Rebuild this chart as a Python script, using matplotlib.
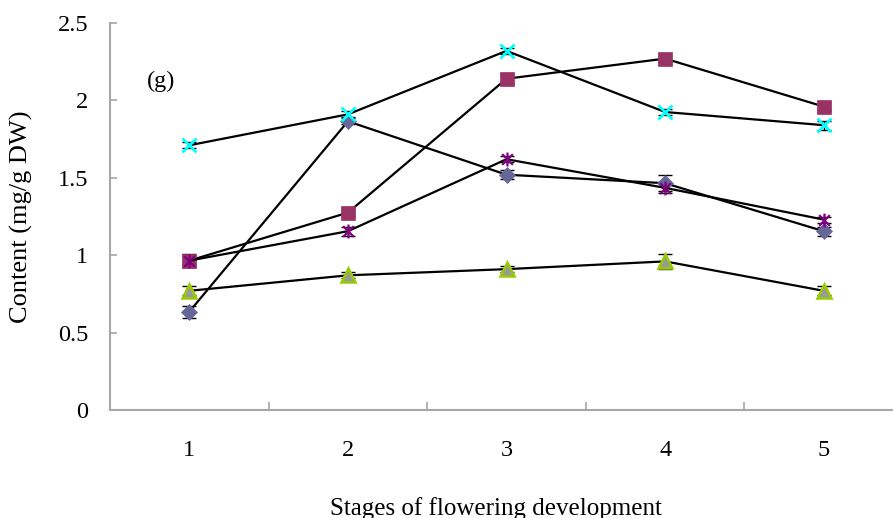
import matplotlib
matplotlib.use("Agg")
import matplotlib.pyplot as plt
from matplotlib.path import Path

# Stages along the x axis
stages = [1, 2, 3, 4, 5]
stage_labels = ["1", "2", "3", "4", "5"]

# Mean content (mg/g DW) for each series, with standard errors
diamond_vals = [0.635, 1.865, 1.52, 1.465, 1.155]
diamond_err = [0.04, 0.02, 0.03, 0.05, 0.03]

square_vals = [0.965, 1.275, 2.14, 2.27, 1.96]
square_err = [0.03, 0.02, 0.03, 0.02, 0.02]

triangle_vals = [0.77, 0.87, 0.91, 0.96, 0.77]
triangle_err = [0.03, 0.02, 0.02, 0.05, 0.03]

cross_vals = [1.71, 1.91, 2.32, 1.925, 1.84]
cross_err = [0.02, 0.02, 0.02, 0.02, 0.03]

star_vals = [0.965, 1.155, 1.62, 1.435, 1.23]
star_err = [0.04, 0.03, 0.02, 0.03, 0.02]

y_ticks = [0, 0.5, 1, 1.5, 2, 2.5]
y_tick_labels = ["0", "0.5", "1", "1.5", "2", "2.5"]

plt.rcParams["font.family"] = ["Liberation Serif", "DejaVu Serif"]

W, H = 893, 518
fig = plt.figure(figsize=(W / 100, H / 100), dpi=100)
# axes spans x = 0.5 .. 5.5; right edge runs slightly past the canvas
ax = fig.add_axes([110 / W, (H - 410) / H, 793 / W, 387 / H])

# asterisk marker: an X with a vertical bar
star_marker = Path(
    [(-1, -1), (1, 1), (-1, 1), (1, -1), (0, -1.3), (0, 1.3)],
    [Path.MOVETO, Path.LINETO, Path.MOVETO, Path.LINETO, Path.MOVETO, Path.LINETO],
)

series = [
    (diamond_vals, diamond_err, dict(marker="D", ms=8.0, mfc="#666699", mec="#666699", mew=0.5)),
    (square_vals, square_err, dict(marker="s", ms=10.0, mfc="#993366", mec="#993366", mew=0.5)),
    (triangle_vals, triangle_err, dict(marker="^", ms=10.5, mfc="#999999", mec="#99cc00", mew=1.8)),
    (cross_vals, cross_err, dict(marker="x", ms=10.0, mfc="none", mec="#00ffff", mew=2.0)),
    (star_vals, star_err, dict(marker=star_marker, ms=10.0, mfc="none", mec="#800080", mew=1.6)),
]

for vals, err, style in series:
    ax.errorbar(stages, vals, yerr=err, fmt="none", ecolor="black",
                elinewidth=1.0, capsize=5, capthick=1.0, zorder=2)
    ax.plot(stages, vals, color="black", lw=1.6, zorder=3, **style)

ax.set_xlim(0.5, 5.5)
ax.set_ylim(0, 2.5)

for side in ("top", "right"):
    ax.spines[side].set_visible(False)
for side in ("left", "bottom"):
    ax.spines[side].set_color("#a6a6a6")
    ax.spines[side].set_linewidth(1.5)

ax.set_yticks(y_ticks)
ax.set_yticklabels(y_tick_labels)
ax.tick_params(axis="y", direction="in", length=5, width=1.2, color="#a6a6a6",
               pad=15.5, labelsize=17.5)

ax.set_xticks(stages)
ax.set_xticklabels(stage_labels)
ax.set_xticks([1.5, 2.5, 3.5, 4.5], minor=True)
ax.tick_params(axis="x", which="major", length=0, pad=21.5, labelsize=17.5)
ax.tick_params(axis="x", which="minor", direction="in", length=6, width=1.2,
               color="#a6a6a6")

ax.set_ylabel("Content (mg/g DW)", fontsize=19)
ax.yaxis.set_label_coords(-0.097, 0.5)
ax.set_xlabel("Stages of flowering development", fontsize=18, va="top")
ax.xaxis.set_label_coords(0.487, -0.2248)

ax.text(0.822, 2.12, "(g)", fontsize=17.5, ha="center", va="center")

fig.savefig("out.png", dpi=100)
